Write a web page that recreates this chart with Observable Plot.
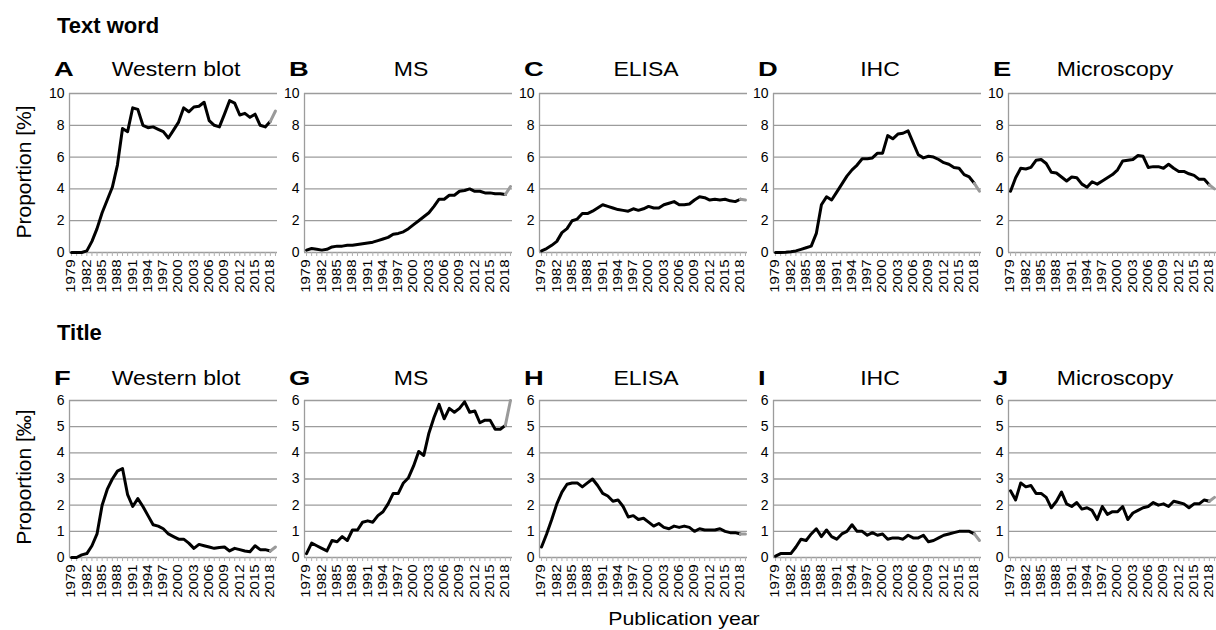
<!DOCTYPE html>
<html>
<head>
<meta charset="utf-8">
<script src="https://cdn.jsdelivr.net/npm/d3@7"></script>
<script src="https://cdn.jsdelivr.net/npm/@observablehq/plot@0.6"></script>
<style>
  html, body { margin: 0; padding: 0; background: #fff; }
  #fig { position: relative; width: 1216px; height: 630px; overflow: hidden; font-family: Arial, "Liberation Sans", sans-serif; color: #000; }
  .t { position: absolute; white-space: nowrap; line-height: 1; }
  .panel { position: absolute; }
</style>
</head>
<body>
<div id="fig"></div>
<script>
// ---- Data ----
const years = [1979,1980,1981,1982,1983,1984,1985,1986,1987,1988,1989,1990,1991,1992,1993,1994,1995,1996,1997,1998,1999,2000,2001,2002,2003,2004,2005,2006,2007,2008,2009,2010,2011,2012,2013,2014,2015,2016,2017,2018,2019];
const labelYears = [1979,1982,1985,1988,1991,1994,1997,2000,2003,2006,2009,2012,2015,2018];
const lastSolidYear = 2018;

const methods = ["Western blot", "MS", "ELISA", "IHC", "Microscopy"];
const lettersTop = ["A", "B", "C", "D", "E"];
const lettersBottom = ["F", "G", "H", "I", "J"];

// Text word, proportion [%]
const textWestern = [0,0,0,0.1,0.7,1.5,2.5,3.3,4.1,5.5, 7.8,7.6,9.1,9.0,8.0,7.85,7.9,7.75,7.6,7.2, 7.7,8.2,9.1,8.85,9.15,9.2,9.45,8.3,8.0,7.9, 8.7,9.55,9.4,8.65,8.75,8.5,8.7,8.0,7.9,8.25,8.9];
const textMS = [0.15,0.25,0.2,0.15,0.2,0.35,0.4,0.4,0.45,0.45, 0.5,0.55,0.6,0.65,0.75,0.85,0.95,1.15,1.2,1.3, 1.5,1.75,2.0,2.25,2.5,2.9,3.35,3.35,3.6,3.6, 3.85,3.9,4.0,3.85,3.85,3.75,3.75,3.7,3.7,3.65,4.15];
const textELISA = [0.1,0.25,0.45,0.7,1.25,1.5,2.0,2.1,2.45,2.45, 2.6,2.8,3.0,2.9,2.8,2.7,2.65,2.6,2.75,2.65, 2.75,2.9,2.8,2.8,3.0,3.1,3.2,3.0,3.0,3.05, 3.3,3.5,3.45,3.3,3.35,3.3,3.35,3.25,3.2,3.35,3.3];
const textIHC = [0,0,0.02,0.05,0.1,0.2,0.3,0.4,1.2,3.0, 3.5,3.3,3.8,4.3,4.8,5.2,5.5,5.9,5.9,5.95, 6.25,6.25,7.35,7.15,7.45,7.5,7.65,6.9,6.15,5.95, 6.05,6.0,5.85,5.65,5.55,5.35,5.3,4.9,4.75,4.35,3.85];
const textMicroscopy = [3.85,4.7,5.3,5.25,5.35,5.8,5.85,5.6,5.05,5.0, 4.75,4.5,4.75,4.7,4.3,4.1,4.45,4.3,4.5,4.7, 4.9,5.2,5.75,5.8,5.85,6.1,6.05,5.35,5.4,5.4, 5.3,5.55,5.3,5.1,5.1,4.95,4.85,4.6,4.6,4.25,4.0];

// Title, proportion [‰]
const titleWestern = [0,0,0.1,0.15,0.45,0.9,2.0,2.6,3.0,3.3, 3.4,2.4,1.95,2.25,1.95,1.6,1.25,1.2,1.1,0.9, 0.8,0.7,0.7,0.55,0.35,0.5,0.45,0.4,0.35,0.38, 0.4,0.25,0.35,0.3,0.25,0.22,0.45,0.3,0.3,0.25,0.4];
const titleMS = [0.15,0.55,0.45,0.35,0.25,0.65,0.6,0.8,0.65,1.05, 1.05,1.35,1.4,1.35,1.6,1.75,2.05,2.45,2.45,2.85, 3.05,3.5,4.05,3.9,4.75,5.35,5.85,5.3,5.7,5.55, 5.7,5.95,5.55,5.6,5.15,5.25,5.25,4.9,4.9,5.05,6.0];
const titleELISA = [0.4,0.9,1.45,2.05,2.5,2.8,2.85,2.85,2.7,2.85, 3.0,2.75,2.45,2.35,2.15,2.2,1.95,1.55,1.6,1.45, 1.5,1.35,1.2,1.3,1.15,1.1,1.2,1.15,1.2,1.15, 1.0,1.1,1.05,1.05,1.05,1.1,1.0,0.95,0.95,0.9,0.9];
const titleIHC = [0.05,0.15,0.15,0.15,0.4,0.7,0.65,0.9,1.1,0.8, 1.05,0.8,0.7,0.9,1.0,1.25,1.0,1.0,0.85,0.95, 0.85,0.9,0.7,0.75,0.75,0.7,0.85,0.75,0.75,0.85, 0.6,0.65,0.75,0.85,0.9,0.95,1.0,1.0,1.0,0.9,0.65];
const titleMicroscopy = [2.55,2.2,2.85,2.7,2.75,2.45,2.45,2.3,1.9,2.15, 2.5,2.05,1.95,2.1,1.85,1.9,1.8,1.45,1.95,1.65, 1.75,1.75,1.95,1.45,1.7,1.8,1.9,1.95,2.1,2.0, 2.05,1.95,2.15,2.1,2.05,1.9,2.05,2.05,2.2,2.15,2.3];

const yTicksTop = [0,2,4,6,8,10];
const yTicksBottom = [0,1,2,3,4,5,6];

const rows = [
  {heading: "Text word", yLabel: "Proportion [%]", letters: lettersTop, series: [textWestern, textMS, textELISA, textIHC, textMicroscopy], yTicks: yTicksTop},
  {heading: "Title", yLabel: "Proportion [‰]", letters: lettersBottom, series: [titleWestern, titleMS, titleELISA, titleIHC, titleMicroscopy], yTicks: yTicksBottom}
];

// ---- Layout ----
const FONT = 'Arial, "Liberation Sans", sans-serif';
const fig = document.getElementById("fig");
const axisLeft = [69, 303.75, 538.5, 773.25, 1008];
const plotW = 208, mL = 26, mT = 8, mB = 45;
const rowLayout = [
  {plotTop: 93, plotH: 159, headingTop: 15, titleTop: 59, letterTop: 58, yLabelCenter: 172},
  {plotTop: 400, plotH: 157, headingTop: 322, titleTop: 368, letterTop: 367, yLabelCenter: 477}
];
const xDomain = [1978.6, 2019.4];
const GRID = "#9c9c9c";

function addText(txt, css) {
  const d = document.createElement("div");
  d.className = "t";
  d.textContent = txt;
  Object.assign(d.style, css);
  fig.appendChild(d);
  return d;
}

function panel(values, yTicks, plotH) {
  const data = years.map((y, i) => ({year: y, value: values[i]}));
  const solid = data.filter(d => d.year <= lastSolidYear);
  const tail = data.filter(d => d.year >= lastSolidYear);
  const yMax = yTicks[yTicks.length - 1];
  const svg = Plot.plot({
    width: mL + plotW, height: mT + plotH + mB,
    marginLeft: mL, marginRight: 0, marginTop: mT, marginBottom: mB,
    x: {type: "linear", domain: xDomain},
    y: {domain: [0, yMax]},
    style: {fontFamily: FONT, color: "#000", background: "transparent", overflow: "visible"},
    marks: [
      Plot.gridY(yTicks, {stroke: GRID, strokeOpacity: 1, strokeWidth: 1.3}),
      Plot.ruleX([xDomain[0]], {stroke: GRID, strokeWidth: 1.3}),
      Plot.axisX(years, {tickSize: 4, tickFormat: () => "", stroke: "#b0b0b0", strokeWidth: 1, label: null}),
      Plot.axisX(labelYears, {tickSize: 0, tickPadding: 7, tickRotate: -90, fontSize: 12, tickFormat: d => String(d), label: null}),
      Plot.axisY(yTicks, {tickSize: 0, tickPadding: 5, fontSize: 14, label: null}),
      Plot.line(solid, {x: "year", y: "value", stroke: "#000", strokeWidth: 3, strokeLinejoin: "round"}),
      Plot.line(tail, {x: "year", y: "value", stroke: "#9a9a9a", strokeWidth: 3, strokeLinejoin: "round"})
    ]
  });
  // stretch the rotated year labels along their length, as in the original figure
  svg.querySelectorAll('g[aria-label="x-axis tick label"] text').forEach(t => {
    const tr = t.getAttribute("transform") || "";
    t.setAttribute("transform", tr + " scale(1.25,1)");
  });
  return svg;
}

rows.forEach((row, r) => {
  const L = rowLayout[r];
  addText(row.heading, {left: "57px", top: L.headingTop + "px", fontSize: "22px", fontWeight: "bold"});
  addText(row.yLabel, {left: "23px", top: L.yLabelCenter + "px", fontSize: "21px", transform: "translate(-50%,-50%) rotate(-90deg)"});
  row.series.forEach((vals, c) => {
    const holder = document.createElement("div");
    holder.className = "panel";
    holder.style.left = (axisLeft[c] - mL) + "px";
    holder.style.top = (L.plotTop - mT) + "px";
    holder.appendChild(panel(vals, row.yTicks, L.plotH));
    fig.appendChild(holder);
    addText(row.letters[c], {left: (axisLeft[c] - 15) + "px", top: L.letterTop + "px", fontSize: "21px", fontWeight: "bold", transform: "scaleX(1.3)", transformOrigin: "left center"});
    addText(methods[c], {left: (axisLeft[c] + plotW / 2 + 3) + "px", top: L.titleTop + "px", fontSize: "20px", transform: "translateX(-50%) scaleX(1.15)", transformOrigin: "center"});
  });
});

addText("Publication year", {left: "684px", top: "609px", fontSize: "19px", transform: "translateX(-50%) scaleX(1.12)"});
</script>
</body>
</html>
